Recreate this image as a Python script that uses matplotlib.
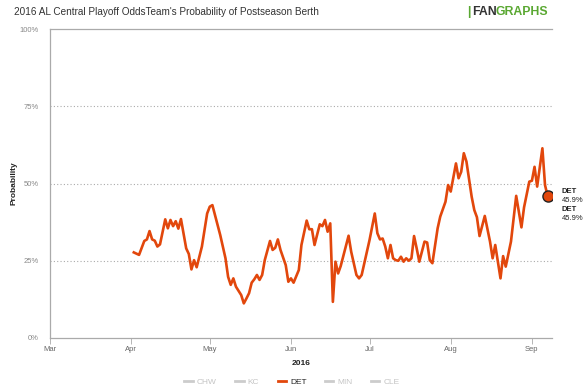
import matplotlib
matplotlib.use('Agg')
import matplotlib.pyplot as plt
import matplotlib.dates as mdates
from matplotlib.lines import Line2D
import pandas as pd

plt.rcParams['font.family'] = ['Liberation Sans', 'DejaVu Sans']

# DET playoff probability (%)
dates = ['2016-04-02', '2016-04-04', '2016-04-06', '2016-04-07', '2016-04-08', '2016-04-09',
         '2016-04-10', '2016-04-11', '2016-04-12', '2016-04-14', '2016-04-15', '2016-04-16',
         '2016-04-17', '2016-04-18', '2016-04-19', '2016-04-20', '2016-04-22', '2016-04-23',
         '2016-04-24', '2016-04-25', '2016-04-26', '2016-04-28', '2016-04-30', '2016-05-01',
         '2016-05-02', '2016-05-04', '2016-05-05', '2016-05-07', '2016-05-08', '2016-05-09',
         '2016-05-10', '2016-05-11', '2016-05-13', '2016-05-14', '2016-05-15', '2016-05-16',
         '2016-05-17', '2016-05-18', '2016-05-19', '2016-05-20', '2016-05-21', '2016-05-22',
         '2016-05-24', '2016-05-25', '2016-05-26', '2016-05-27', '2016-05-28', '2016-05-30',
         '2016-05-31', '2016-06-01', '2016-06-02', '2016-06-04', '2016-06-05', '2016-06-07',
         '2016-06-08', '2016-06-09', '2016-06-10', '2016-06-12', '2016-06-13', '2016-06-14',
         '2016-06-15', '2016-06-16', '2016-06-17', '2016-06-18', '2016-06-19', '2016-06-20',
         '2016-06-23', '2016-06-24', '2016-06-26', '2016-06-27', '2016-06-28', '2016-06-29',
         '2016-06-30', '2016-07-01', '2016-07-03', '2016-07-04', '2016-07-05', '2016-07-06',
         '2016-07-07', '2016-07-08', '2016-07-09', '2016-07-10', '2016-07-11', '2016-07-12',
         '2016-07-13', '2016-07-14', '2016-07-15', '2016-07-16', '2016-07-17', '2016-07-18',
         '2016-07-19', '2016-07-20', '2016-07-22', '2016-07-23', '2016-07-24', '2016-07-25',
         '2016-07-27', '2016-07-28', '2016-07-30', '2016-07-31', '2016-08-01', '2016-08-03',
         '2016-08-04', '2016-08-05', '2016-08-06', '2016-08-07', '2016-08-09', '2016-08-10',
         '2016-08-11', '2016-08-12', '2016-08-14', '2016-08-16', '2016-08-17', '2016-08-18',
         '2016-08-20', '2016-08-21', '2016-08-22', '2016-08-24', '2016-08-26', '2016-08-28',
         '2016-08-29', '2016-08-31', '2016-09-01', '2016-09-02', '2016-09-03', '2016-09-05',
         '2016-09-06', '2016-09-07']
det = [27.7, 26.9, 31.4, 31.9, 34.6, 31.9,
       31.5, 29.6, 30.3, 38.4, 35.5, 38.2,
       36.2, 37.8, 35.4, 38.5, 29.0, 27.2,
       22.2, 25.2, 22.9, 29.6, 40.3, 42.5,
       43.0, 36.6, 33.3, 25.8, 19.8, 17.2,
       19.3, 16.6, 13.9, 11.2, 12.8, 14.5,
       17.9, 19.0, 20.4, 18.8, 20.4, 25.2,
       31.4, 28.5, 29.2, 31.9, 28.5, 23.6,
       18.2, 19.3, 17.9, 22.0, 30.1, 38.0,
       35.2, 35.2, 30.1, 36.8, 36.2, 38.2,
       34.4, 37.1, 11.7, 24.7, 20.9, 23.3,
       33.1, 27.9, 20.4, 19.3, 20.4, 24.2,
       28.0, 31.7, 40.3, 33.9, 31.9, 32.2,
       29.6, 25.8, 30.1, 25.8, 25.2, 25.0,
       26.3, 24.7, 25.8, 25.0, 25.8, 33.0,
       29.0, 24.7, 31.2, 30.9, 25.2, 24.2,
       35.5, 39.3, 44.1, 49.5, 47.4, 56.5,
       51.7, 53.8, 59.8, 57.1, 45.7, 41.4,
       39.1, 33.0, 39.5, 31.2, 25.8, 30.1,
       19.3, 26.5, 23.1, 31.2, 46.0, 35.8,
       42.3, 50.6, 50.9, 55.4, 49.0, 61.4,
       49.5, 45.9]

teams = ['CHW', 'KC', 'DET', 'MIN', 'CLE']
month_ticks = ['2016-03-01', '2016-04-01', '2016-05-01', '2016-06-01',
               '2016-07-01', '2016-08-01', '2016-09-01']
y_ticks = [0, 25, 50, 75, 100]

orange = '#e2470c'
x = pd.to_datetime(dates)

fig = plt.figure(figsize=(5.84, 3.89), dpi=100)
ax = fig.add_axes([50 / 584, 1 - 338 / 389, 502 / 584, 309 / 389])

ax.plot(x, det, color=orange, lw=1.9, solid_joinstyle='round', zorder=3)
ax.plot(x[-1], det[-1], 'o', ms=8, mfc=orange, mec='#222222', mew=1.0, zorder=4)

ax.set_xlim(pd.Timestamp('2016-03-01'), pd.Timestamp('2016-09-08 16:00'))
ax.set_ylim(0, 100)

ax.set_yticks(y_ticks)
ax.set_yticklabels([f'{v}%' for v in y_ticks])
for v in y_ticks[1:-1]:
    ax.axhline(v, color='#aaaaaa', lw=0.8, ls=(0, (1, 2)), zorder=1)

ax.set_xticks(pd.to_datetime(month_ticks))
ax.xaxis.set_major_formatter(mdates.DateFormatter('%b'))
ax.tick_params(axis='x', length=4, width=0.6, color='#aaaaaa', labelsize=5.5,
               labelcolor='#666666', pad=2)
ax.tick_params(axis='y', length=0, labelsize=5.5, labelcolor='#888888', pad=8)

for s in ['left', 'bottom', 'top']:
    ax.spines[s].set_color('#aaaaaa')
    ax.spines[s].set_linewidth(0.9)
ax.spines['right'].set_visible(False)

ax.set_xlabel('2016', fontsize=6, fontweight='bold', color='#222222', labelpad=5)
ax.set_ylabel('Probability', fontsize=6, fontweight='bold', color='#222222')
ax.yaxis.set_label_coords(-32 / 502, 0.5)

# end-of-line labels (drawn twice as in the original)
lab = f'{det[-1]:.1f}%'
for dy in [0, -18]:
    ax.annotate('DET', (x[-1], det[-1]), xytext=(10, 3.6 + dy * 0.72), textcoords='offset points',
                fontsize=5.5, fontweight='bold', color='#222222', va='center', ha='left')
    ax.annotate(lab, (x[-1], det[-1]), xytext=(10, -3.4 + dy * 0.72), textcoords='offset points',
                fontsize=5.5, color='#222222', va='center', ha='left')

fig.text(14 / 584, 1 - 12 / 389, "2016 AL Central Playoff OddsTeam's Probability of Postseason Berth",
         fontsize=7.2, color='#333333', va='center', ha='left')
fig.text(472 / 584, 1 - 12 / 389, 'FAN', fontsize=8.8, fontweight='bold', color='#333333',
         va='center', ha='left')
fig.text(496 / 584, 1 - 12 / 389, 'GRAPHS', fontsize=8.8, fontweight='bold', color='#5aa832',
         va='center', ha='left')
fig.text(467 / 584, 1 - 12 / 389, '|', fontsize=8.8, fontweight='bold', color='#5aa832',
         va='center', ha='left')

handles = [Line2D([], [], color=orange if t == 'DET' else '#cccccc', lw=2) for t in teams]
leg = fig.legend(handles, teams, loc='center', bbox_to_anchor=(292 / 584, 1 - 382 / 389), ncol=5,
                 frameon=False, fontsize=6, handlelength=1.0, handletextpad=0.5, columnspacing=2.2)
for t, txt in zip(teams, leg.get_texts()):
    txt.set_color('#222222' if t == 'DET' else '#c4c4c4')

fig.savefig('out.png', dpi=100)
